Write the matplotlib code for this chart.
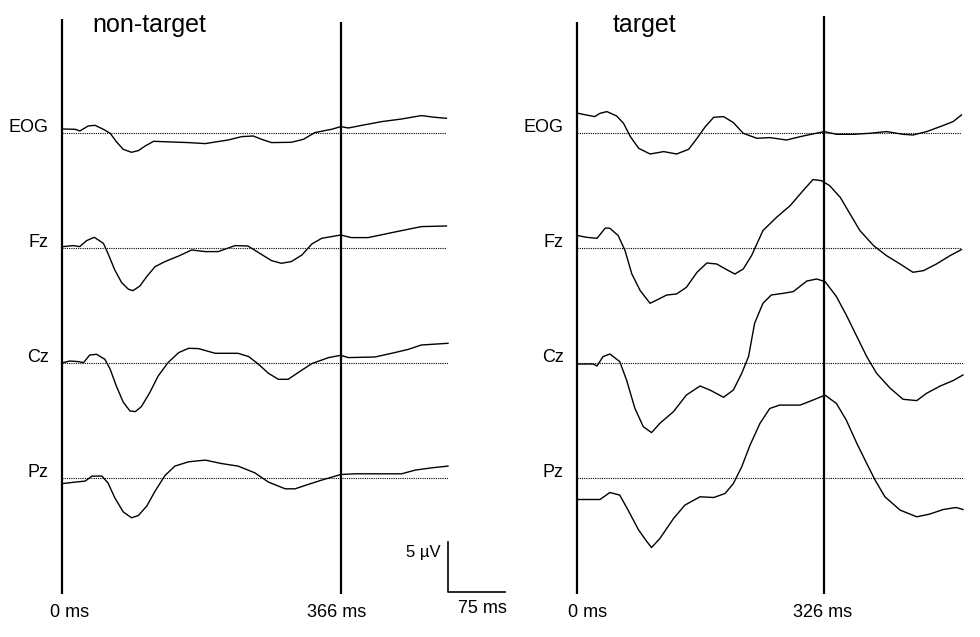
import matplotlib.pyplot as plt

plt.rcParams['font.family'] = ['Liberation Sans', 'DejaVu Sans']

# channel names and their vertical offsets (uV)
channels = ["EOG", "Fz", "Cz", "Pz"]
offsets = [0, -11.5, -23.0, -34.45]

# non-target averages: (ms, uV)
nt_eog_t = [1, 17, 23, 34, 43, 54, 63, 71, 80, 91, 100, 109, 120, 144, 166, 188, 201, 218, 236, 251, 262, 275, 301, 317, 332, 354, 366, 376, 394, 420, 446, 472, 490, 505]
nt_eog_v = [0.43, 0.4, 0.23, 0.73, 0.8, 0.4, 0, -0.83, -1.6, -1.9, -1.73, -1.27, -0.8, -0.87, -0.93, -1.03, -0.87, -0.67, -0.33, -0.27, -0.6, -0.93, -0.9, -0.6, 0.07, 0.4, 0.67, 0.53, 0.8, 1.17, 1.43, 1.77, 1.6, 1.5]
nt_fz_t = [1, 14, 23, 32, 42, 54, 60, 69, 78, 87, 93, 102, 111, 122, 135, 153, 170, 188, 205, 227, 244, 258, 275, 288, 301, 315, 328, 341, 366, 380, 402, 429, 450, 472, 505]
nt_fz_v = [0.17, 0.27, 0.17, 0.77, 1.1, 0.5, -0.5, -2.17, -3.43, -4.1, -4.23, -3.77, -2.83, -1.83, -1.33, -0.77, -0.17, -0.33, -0.33, 0.27, 0.23, -0.43, -1.23, -1.5, -1.33, -0.67, 0.43, 1.0, 1.33, 1.07, 1.07, 1.5, 1.83, 2.17, 2.23]
nt_cz_t = [1, 10, 21, 28, 36, 45, 56, 63, 71, 80, 89, 96, 104, 115, 126, 139, 153, 166, 179, 201, 231, 245, 258, 271, 284, 297, 310, 328, 350, 366, 376, 411, 437, 455, 472, 507]
nt_cz_v = [0.07, 0.23, 0.17, 0.07, 0.83, 0.9, 0.4, -0.6, -2.27, -3.87, -4.77, -4.83, -4.33, -2.93, -1.27, 0.07, 1.07, 1.5, 1.47, 1.0, 1.0, 0.67, -0.1, -1.0, -1.6, -1.6, -0.93, -0.03, 0.57, 0.8, 0.57, 0.63, 1.07, 1.4, 1.83, 2.0]
nt_pz_t = [1, 17, 30, 39, 52, 60, 69, 80, 91, 100, 111, 122, 135, 148, 166, 188, 209, 231, 253, 271, 293, 306, 323, 341, 366, 385, 446, 464, 486, 507]
nt_pz_v = [-0.57, -0.43, -0.33, 0.17, 0.17, -0.5, -2.0, -3.4, -4.0, -3.77, -2.83, -1.33, 0.23, 1.17, 1.6, 1.77, 1.43, 1.17, 0.5, -0.43, -1.1, -1.1, -0.67, -0.23, 0.33, 0.4, 0.4, 0.77, 1.0, 1.17]

# target averages: (ms, uV)
t_eog_t = [1, 12, 23, 30, 39, 52, 61, 70, 81, 96, 114, 131, 147, 158, 169, 180, 193, 206, 219, 237, 254, 276, 298, 326, 342, 364, 386, 408, 430, 443, 461, 479, 496, 507]
t_eog_v = [2.0, 1.83, 1.67, 2.0, 2.17, 1.73, 1.0, -0.33, -1.5, -2.07, -1.83, -2.07, -1.6, -0.5, 0.67, 1.6, 1.67, 1.07, 0, -0.5, -0.43, -0.67, -0.27, 0.17, -0.1, -0.1, 0, 0.17, -0.1, -0.17, 0.17, 0.67, 1.17, 1.83]
t_fz_t = [1, 12, 26, 37, 43, 54, 63, 72, 83, 96, 105, 118, 131, 144, 158, 171, 184, 197, 208, 219, 230, 245, 263, 281, 298, 311, 322, 333, 347, 360, 373, 391, 408, 426, 443, 457, 474, 492, 507]
t_fz_v = [1.27, 1.1, 1.0, 2.03, 2.0, 1.27, -0.23, -2.57, -4.23, -5.5, -5.17, -4.67, -4.57, -3.9, -2.4, -1.47, -1.57, -2.13, -2.57, -2.07, -0.73, 1.77, 3.1, 4.27, 5.77, 6.87, 6.77, 6.27, 5.1, 3.43, 1.77, 0.27, -0.73, -1.57, -2.4, -2.23, -1.57, -0.73, -0.13]
t_cz_t = [1, 21, 26, 34, 43, 56, 65, 76, 87, 98, 109, 127, 144, 162, 175, 193, 206, 217, 226, 234, 245, 256, 272, 285, 303, 316, 327, 342, 355, 369, 382, 395, 413, 430, 448, 461, 479, 496, 509]
t_cz_v = [-0.07, -0.07, -0.27, 0.67, 0.93, 0.17, -1.67, -4.5, -6.33, -6.93, -6.0, -4.83, -3.17, -2.27, -2.67, -3.4, -2.67, -1.0, 0.67, 4.0, 6.0, 6.83, 7.0, 7.17, 8.23, 8.43, 8.17, 6.67, 4.83, 2.67, 0.67, -1.0, -2.5, -3.6, -3.73, -3.0, -2.27, -1.73, -1.17]
t_pz_t = [1, 30, 43, 56, 67, 81, 92, 98, 109, 127, 142, 162, 180, 195, 206, 217, 228, 241, 254, 267, 294, 311, 327, 342, 355, 369, 382, 393, 406, 426, 448, 465, 483, 500, 509]
t_pz_v = [-2.17, -2.17, -1.47, -1.73, -3.23, -5.23, -6.4, -6.97, -6.07, -4.07, -2.73, -1.9, -1.97, -1.57, -0.57, 1.1, 3.27, 5.43, 6.93, 7.27, 7.27, 7.77, 8.27, 7.43, 5.77, 3.43, 1.43, -0.23, -1.9, -3.23, -3.9, -3.63, -3.17, -2.97, -3.17]

panels = [
    {"title": "non-target", "marker": 366, "left": 62.3, "pxms": 0.7607,
     "traces": [(nt_eog_t, nt_eog_v), (nt_fz_t, nt_fz_v), (nt_cz_t, nt_cz_v), (nt_pz_t, nt_pz_v)],
     "zero_top": 11.4, "marker_top": 11.1, "lab0": 9, "labm": 360, "title_x": 40},
    {"title": "target", "marker": 326, "left": 577.3, "pxms": 0.7577,
     "traces": [(t_eog_t, t_eog_v), (t_fz_t, t_fz_v), (t_cz_t, t_cz_v), (t_pz_t, t_pz_v)],
     "zero_top": 11.1, "marker_top": 11.7, "lab0": 13, "labm": 324, "title_x": 46},
]

W, H = 980, 637
fig = plt.figure(figsize=(9.8, 6.37), dpi=100)
y_top, y_bot = 11.83, -46.07   # uV at pixel rows 15 and 594
xmax = 509

for p in panels:
    ax = fig.add_axes([p["left"] / W, (H - 594) / H, xmax * p["pxms"] / W, 579 / H])
    ax.set_xlim(0, xmax)
    ax.set_ylim(y_bot, y_top)
    ax.axis('off')

    for name, off, (t, v) in zip(channels, offsets, p["traces"]):
        ax.plot([0, t[-1]], [off, off], color='black', lw=0.8, ls=(0, (1, 1)), clip_on=False)
        ax.plot(t, [val + off for val in v], color='black', lw=1.0, clip_on=False)
        ax.text(-18, off + 0.1, name, ha='right', va='baseline', fontsize=13, clip_on=False)

    ax.vlines(0, y_bot, p["zero_top"], color='black', lw=1.6, clip_on=False)
    ax.vlines(p["marker"], y_bot, p["marker_top"], color='black', lw=1.6, clip_on=False)

    ax.text(p["title_x"], 10.1, p["title"], ha='left', va='baseline', fontsize=18)
    ax.text(p["lab0"], -48.4, "0 ms", ha='center', va='baseline', fontsize=13, clip_on=False)
    ax.text(p["labm"], -48.4, f"{p['marker']} ms", ha='center', va='baseline', fontsize=13, clip_on=False)

    if p["title"] == "non-target":
        # scale bar: 5 uV, 75 ms
        x0, yb = 507, -45.87
        ax.plot([x0, x0, x0 + 75], [yb + 5, yb, yb], color='black', lw=1.2, clip_on=False)
        ax.text(x0 - 10, -42.4, "5 µV", ha='right', va='baseline', fontsize=12, clip_on=False)
        ax.text(x0 + 45, -48.0, "75 ms", ha='center', va='baseline', fontsize=13, clip_on=False)

fig.savefig('out.png', dpi=100, facecolor='white')
